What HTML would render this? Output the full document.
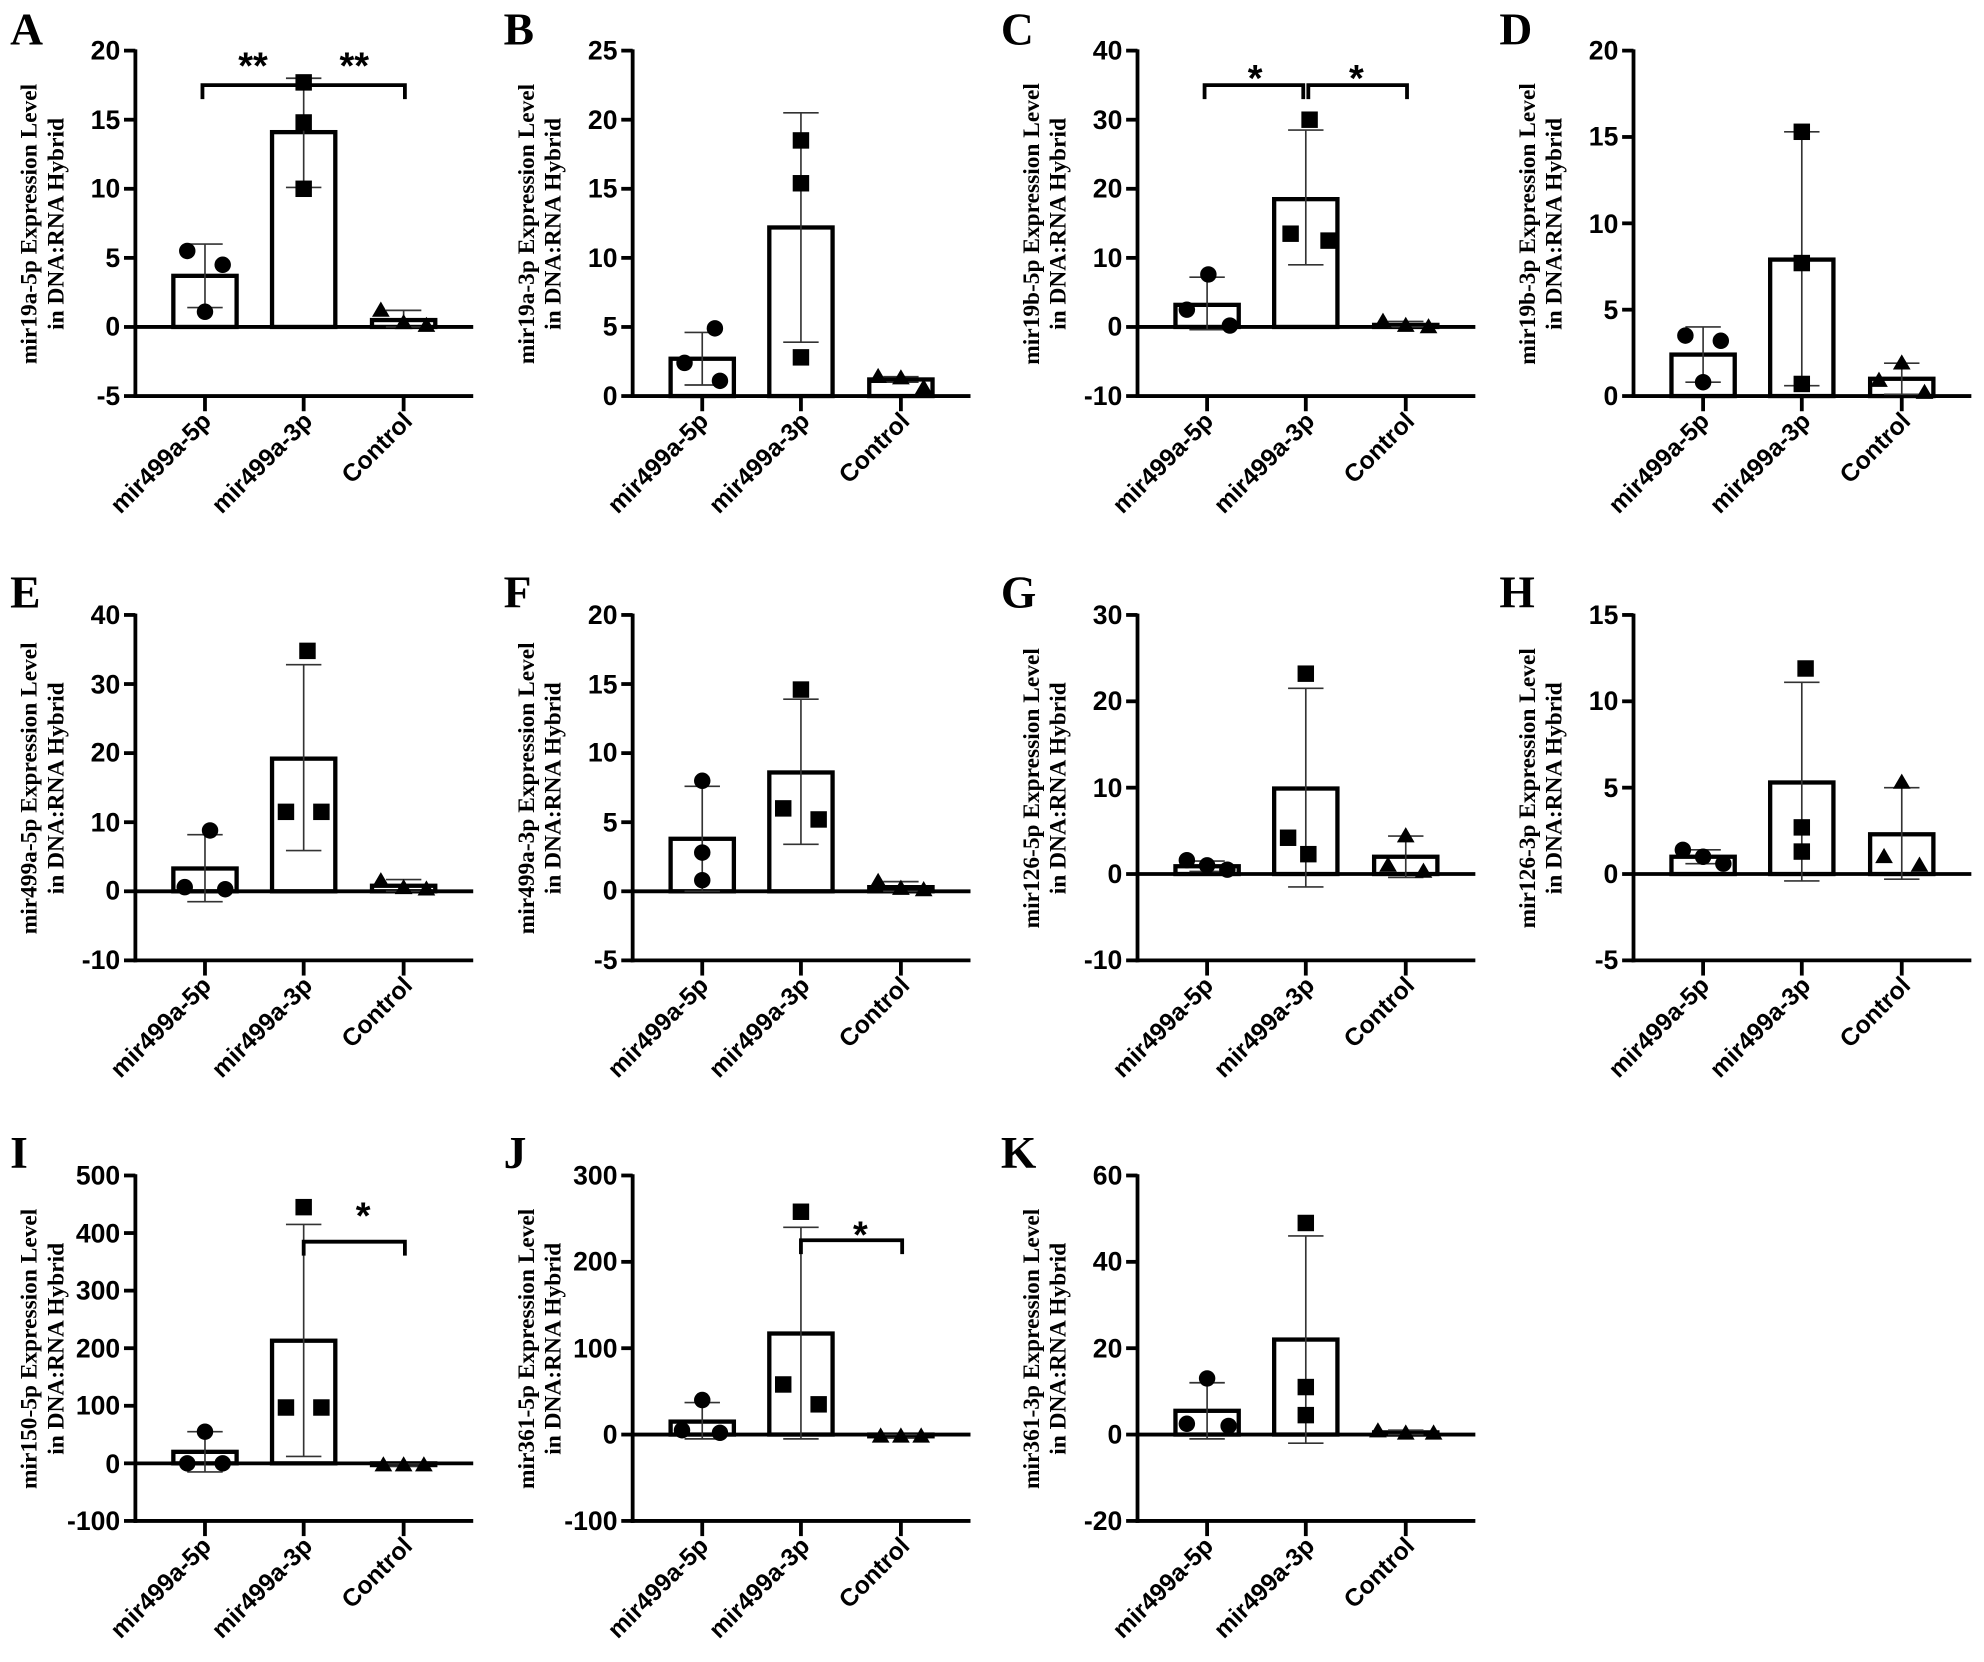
<!DOCTYPE html>
<html><head><meta charset="utf-8"><style>
html,body{margin:0;padding:0;background:#fff;}
svg{display:block;}
.tk{font-family:"Liberation Sans",sans-serif;font-weight:bold;font-size:21px;text-anchor:end;}
.xl{font-family:"Liberation Sans",sans-serif;font-weight:bold;font-size:19.5px;text-anchor:end;}
.yl{font-family:"Liberation Serif",serif;font-weight:bold;font-size:18.5px;text-anchor:middle;}
.pl{font-family:"Liberation Serif",serif;font-weight:bold;font-size:36px;}
.st{font-family:"Liberation Sans",sans-serif;font-weight:bold;font-size:30px;text-anchor:middle;}
</style></head><body>
<svg id="s" width="1984" height="1662" viewBox="0 0 1568 1313.5" preserveAspectRatio="none" xmlns="http://www.w3.org/2000/svg">
<rect width="1568" height="1313.5" fill="#fff"/>
<text class="pl" x="8" y="35">A</text>
<text class="pl" x="398" y="35">B</text>
<text class="pl" x="791" y="35">C</text>
<text class="pl" x="1185" y="35">D</text>
<text class="pl" x="8" y="480">E</text>
<text class="pl" x="398" y="480">F</text>
<text class="pl" x="791" y="480">G</text>
<text class="pl" x="1185" y="480">H</text>
<text class="pl" x="8" y="923">I</text>
<text class="pl" x="398" y="923">J</text>
<text class="pl" x="791" y="923">K</text>

<g transform="translate(107,40)">
<text class="yl" transform="translate(-78,137) rotate(-90)">mir19a-5p Expression Level</text>
<text class="yl" transform="translate(-57,137) rotate(-90)">in DNA:RNA Hybrid</text>
<text class="tk" x="-12" y="7">20</text><text class="tk" x="-12" y="62">15</text><text class="tk" x="-12" y="116">10</text><text class="tk" x="-12" y="171">5</text><text class="tk" x="-12" y="225">0</text><text class="tk" x="-12" y="280">-5</text>
<text class="st" x="93" y="22">**</text><text class="st" x="173" y="22">**</text>
</g>
<g transform="translate(500,40)">
<text class="yl" transform="translate(-78,137) rotate(-90)">mir19a-3p Expression Level</text>
<text class="yl" transform="translate(-57,137) rotate(-90)">in DNA:RNA Hybrid</text>
<text class="tk" x="-12" y="7">25</text><text class="tk" x="-12" y="62">20</text><text class="tk" x="-12" y="116">15</text><text class="tk" x="-12" y="171">10</text><text class="tk" x="-12" y="225">5</text><text class="tk" x="-12" y="280">0</text>
</g>
<g transform="translate(899,40)">
<text class="yl" transform="translate(-78,137) rotate(-90)">mir19b-5p Expression Level</text>
<text class="yl" transform="translate(-57,137) rotate(-90)">in DNA:RNA Hybrid</text>
<text class="tk" x="-12" y="7">40</text><text class="tk" x="-12" y="62">30</text><text class="tk" x="-12" y="116">20</text><text class="tk" x="-12" y="171">10</text><text class="tk" x="-12" y="225">0</text><text class="tk" x="-12" y="280">-10</text>
<text class="st" x="93" y="32">*</text><text class="st" x="173" y="32">*</text>
</g>
<g transform="translate(1291,40)">
<text class="yl" transform="translate(-78,137) rotate(-90)">mir19b-3p Expression Level</text>
<text class="yl" transform="translate(-57,137) rotate(-90)">in DNA:RNA Hybrid</text>
<text class="tk" x="-12" y="7">20</text><text class="tk" x="-12" y="75">15</text><text class="tk" x="-12" y="144">10</text><text class="tk" x="-12" y="212">5</text><text class="tk" x="-12" y="280">0</text>
</g>

<g transform="translate(107,486)">
<text class="yl" transform="translate(-78,137) rotate(-90)">mir499a-5p Expression Level</text>
<text class="yl" transform="translate(-57,137) rotate(-90)">in DNA:RNA Hybrid</text>
<text class="tk" x="-12" y="7">40</text><text class="tk" x="-12" y="62">30</text><text class="tk" x="-12" y="116">20</text><text class="tk" x="-12" y="171">10</text><text class="tk" x="-12" y="225">0</text><text class="tk" x="-12" y="280">-10</text>
</g>
<g transform="translate(500,486)">
<text class="yl" transform="translate(-78,137) rotate(-90)">mir499a-3p Expression Level</text>
<text class="yl" transform="translate(-57,137) rotate(-90)">in DNA:RNA Hybrid</text>
<text class="tk" x="-12" y="7">20</text><text class="tk" x="-12" y="62">15</text><text class="tk" x="-12" y="116">10</text><text class="tk" x="-12" y="171">5</text><text class="tk" x="-12" y="225">0</text><text class="tk" x="-12" y="280">-5</text>
</g>
<g transform="translate(899,486)">
<text class="yl" transform="translate(-78,137) rotate(-90)">mir126-5p Expression Level</text>
<text class="yl" transform="translate(-57,137) rotate(-90)">in DNA:RNA Hybrid</text>
<text class="tk" x="-12" y="7">30</text><text class="tk" x="-12" y="75">20</text><text class="tk" x="-12" y="144">10</text><text class="tk" x="-12" y="212">0</text><text class="tk" x="-12" y="280">-10</text>
</g>
<g transform="translate(1291,486)">
<text class="yl" transform="translate(-78,137) rotate(-90)">mir126-3p Expression Level</text>
<text class="yl" transform="translate(-57,137) rotate(-90)">in DNA:RNA Hybrid</text>
<text class="tk" x="-12" y="7">15</text><text class="tk" x="-12" y="75">10</text><text class="tk" x="-12" y="144">5</text><text class="tk" x="-12" y="212">0</text><text class="tk" x="-12" y="280">-5</text>
</g>

<g transform="translate(107,929)">
<text class="yl" transform="translate(-78,137) rotate(-90)">mir150-5p Expression Level</text>
<text class="yl" transform="translate(-57,137) rotate(-90)">in DNA:RNA Hybrid</text>
<text class="tk" x="-12" y="7">500</text><text class="tk" x="-12" y="53">400</text><text class="tk" x="-12" y="98">300</text><text class="tk" x="-12" y="144">200</text><text class="tk" x="-12" y="189">100</text><text class="tk" x="-12" y="235">0</text><text class="tk" x="-12" y="280">-100</text>
<text class="st" x="180" y="42">*</text>
</g>
<g transform="translate(500,929)">
<text class="yl" transform="translate(-78,137) rotate(-90)">mir361-5p Expression Level</text>
<text class="yl" transform="translate(-57,137) rotate(-90)">in DNA:RNA Hybrid</text>
<text class="tk" x="-12" y="7">300</text><text class="tk" x="-12" y="75">200</text><text class="tk" x="-12" y="144">100</text><text class="tk" x="-12" y="212">0</text><text class="tk" x="-12" y="280">-100</text>
<text class="st" x="180" y="57">*</text>
</g>
<g transform="translate(899,929)">
<text class="yl" transform="translate(-78,137) rotate(-90)">mir361-3p Expression Level</text>
<text class="yl" transform="translate(-57,137) rotate(-90)">in DNA:RNA Hybrid</text>
<text class="tk" x="-12" y="7">60</text><text class="tk" x="-12" y="75">40</text><text class="tk" x="-12" y="144">20</text><text class="tk" x="-12" y="212">0</text><text class="tk" x="-12" y="280">-20</text>
</g>

<text class="xl" transform="translate(168,334) rotate(-45)">mir499a-5p</text><text class="xl" transform="translate(248,334) rotate(-45)">mir499a-3p</text><text class="xl" transform="translate(327,334) rotate(-45)">Control</text>
<text class="xl" transform="translate(561,334) rotate(-45)">mir499a-5p</text><text class="xl" transform="translate(641,334) rotate(-45)">mir499a-3p</text><text class="xl" transform="translate(720,334) rotate(-45)">Control</text>
<text class="xl" transform="translate(960,334) rotate(-45)">mir499a-5p</text><text class="xl" transform="translate(1040,334) rotate(-45)">mir499a-3p</text><text class="xl" transform="translate(1119,334) rotate(-45)">Control</text>
<text class="xl" transform="translate(1352,334) rotate(-45)">mir499a-5p</text><text class="xl" transform="translate(1432,334) rotate(-45)">mir499a-3p</text><text class="xl" transform="translate(1511,334) rotate(-45)">Control</text>

<text class="xl" transform="translate(168,780) rotate(-45)">mir499a-5p</text><text class="xl" transform="translate(248,780) rotate(-45)">mir499a-3p</text><text class="xl" transform="translate(327,780) rotate(-45)">Control</text>
<text class="xl" transform="translate(561,780) rotate(-45)">mir499a-5p</text><text class="xl" transform="translate(641,780) rotate(-45)">mir499a-3p</text><text class="xl" transform="translate(720,780) rotate(-45)">Control</text>
<text class="xl" transform="translate(960,780) rotate(-45)">mir499a-5p</text><text class="xl" transform="translate(1040,780) rotate(-45)">mir499a-3p</text><text class="xl" transform="translate(1119,780) rotate(-45)">Control</text>
<text class="xl" transform="translate(1352,780) rotate(-45)">mir499a-5p</text><text class="xl" transform="translate(1432,780) rotate(-45)">mir499a-3p</text><text class="xl" transform="translate(1511,780) rotate(-45)">Control</text>

<text class="xl" transform="translate(168,1223) rotate(-45)">mir499a-5p</text><text class="xl" transform="translate(248,1223) rotate(-45)">mir499a-3p</text><text class="xl" transform="translate(327,1223) rotate(-45)">Control</text>
<text class="xl" transform="translate(561,1223) rotate(-45)">mir499a-5p</text><text class="xl" transform="translate(641,1223) rotate(-45)">mir499a-3p</text><text class="xl" transform="translate(720,1223) rotate(-45)">Control</text>
<text class="xl" transform="translate(960,1223) rotate(-45)">mir499a-5p</text><text class="xl" transform="translate(1040,1223) rotate(-45)">mir499a-3p</text><text class="xl" transform="translate(1119,1223) rotate(-45)">Control</text>
<g id="plots"></g>
</svg>
<script>
var P=[
{x:107,y:40,mn:-5,mx:20,b:[[3.7,1.4,6.0,[[-14,5.5],[14,4.5],[0,1.1]]],[14.1,10.1,18.0,[[0,17.7],[0,14.8],[0,10]]],[0.5,0,1.2,[[-18,1.2],[0,0.3],[18,0.1]]]],sig:[[53,213,17.5]]},
{x:500,y:40,mn:0,mx:25,b:[[2.7,0.8,4.6,[[10,4.9],[-14,2.4],[14,1.1]]],[12.2,3.9,20.5,[[0,18.5],[0,15.4],[0,2.8]]],[1.2,1.0,1.4,[[-18,1.4],[0,1.3],[18,0.6]]]]},
{x:899,y:40,mn:-10,mx:40,b:[[3.2,-0.4,7.2,[[1,7.6],[-16,2.5],[18,0.2]]],[18.5,9,28.5,[[3,30],[-12,13.5],[18,12.5]]],[0.3,0,0.8,[[-18,0.8],[0,0.2],[18,0]]]],sig:[[53,131,35],[135,213,35]]},
{x:1291,y:40,mn:0,mx:20,b:[[2.4,0.8,4.0,[[-14,3.5],[14,3.2],[0,0.8]]],[7.9,0.6,15.3,[[0,15.3],[0,7.7],[0,0.7]]],[1.0,0.1,1.9,[[0,1.9],[-18,0.9],[18,0.2]]]]},
{x:107,y:486,mn:-10,mx:40,b:[[3.3,-1.5,8.2,[[4,8.8],[-16,0.6],[16,0.3]]],[19.2,5.9,32.8,[[3,34.8],[-14,11.5],[14,11.5]]],[0.8,0,1.7,[[-18,1.5],[0,0.5],[18,0.3]]]]},
{x:500,y:486,mn:-5,mx:20,b:[[3.8,0,7.6,[[0,8],[0,2.8],[0,0.8]]],[8.6,3.4,13.9,[[0,14.6],[-14,6],[14,5.2]]],[0.3,0,0.7,[[-18,0.7],[0,0.2],[18,0.1]]]]},
{x:899,y:486,mn:-10,mx:30,b:[[0.9,0.3,1.5,[[-16,1.6],[0,1.0],[16,0.5]]],[9.9,-1.5,21.5,[[0,23.2],[-14,4.2],[2,2.3]]],[2.0,-0.4,4.4,[[0,4.4],[-14,1.0],[14,0.3]]]]},
{x:1291,y:486,mn:-5,mx:15,b:[[1.0,0.6,1.4,[[-16,1.4],[0,1.0],[16,0.6]]],[5.3,-0.4,11.1,[[3,11.9],[0,2.7],[0,1.3]]],[2.3,-0.3,5.0,[[0,5.3],[-14,1.0],[14,0.5]]]]},
{x:107,y:929,mn:-100,mx:500,b:[[20,-15,55,[[0,55],[-14,0],[14,0]]],[213,12,415,[[0,445],[-14,97],[14,97]]],[-3,-5,-1,[[-16,-3],[0,-3],[16,-3]]]],sig:[[133,213,385]]},
{x:500,y:929,mn:-100,mx:300,b:[[15,-5,37,[[0,40],[-16,5],[14,2]]],[117,-5,240,[[0,258],[-14,58],[14,35]]],[-2,-4,0,[[-16,-2],[0,-2],[16,-2]]]],sig:[[133,213,225]]},
{x:899,y:929,mn:-20,mx:60,b:[[5.5,-1,12,[[0,13],[-16,2.5],[17,2]]],[22,-2,46,[[0,49],[0,11],[0,4.5]]],[0.5,0,1,[[-22,0.8],[0,0.3],[22,0.3]]]]}
];
var H=273,W=267,cx=[55,133,212],out='',STP=[5,5,5,4,5,5,4,4,6,4,4];
P.forEach(function(p,ix){
 function Y(v){return p.y+H*(p.mx-v)/(p.mx-p.mn);}
 var x0=p.x;
 out+='<line x1="'+x0+'" y1="'+(p.y-1)+'" x2="'+x0+'" y2="'+(p.y+H+1.5)+'" stroke="#000" stroke-width="3"/>';
 out+='<line x1="'+(x0-1.5)+'" y1="'+(p.y+H)+'" x2="'+(x0+W)+'" y2="'+(p.y+H)+'" stroke="#000" stroke-width="3"/>';
 var st=STP[ix];
 for(var i=0;i<=st;i++){var ty=p.y+H*i/st;out+='<line x1="'+(x0-9)+'" y1="'+ty+'" x2="'+x0+'" y2="'+ty+'" stroke="#000" stroke-width="3"/>';}
 cx.forEach(function(c){out+='<line x1="'+(x0+c)+'" y1="'+(p.y+H)+'" x2="'+(x0+c)+'" y2="'+(p.y+H+12)+'" stroke="#000" stroke-width="3"/>';});
 var z=Y(0);
 p.b.forEach(function(b,k){
  var c=x0+cx[k],top=Y(b[0]);
  out+='<rect x="'+(c-25)+'" y="'+Math.min(top,z)+'" width="50" height="'+Math.abs(z-top)+'" fill="#fff" stroke="#000" stroke-width="3.4"/>';
 });
 if(p.mn<0) out+='<line x1="'+x0+'" y1="'+z+'" x2="'+(x0+W)+'" y2="'+z+'" stroke="#000" stroke-width="3"/>';
 p.b.forEach(function(b,k){
  var c=x0+cx[k];
  out+='<line x1="'+c+'" y1="'+Y(b[1])+'" x2="'+c+'" y2="'+Y(b[2])+'" stroke="#333" stroke-width="1.3"/>';
  [b[1],b[2]].forEach(function(v){out+='<line x1="'+(c-14)+'" y1="'+Y(v)+'" x2="'+(c+14)+'" y2="'+Y(v)+'" stroke="#333" stroke-width="1.3"/>';});
  b[3].forEach(function(pt){
   var px=c+pt[0],py=Y(pt[1]);
   if(k==0) out+='<circle cx="'+px+'" cy="'+py+'" r="6.5" fill="#000"/>';
   else if(k==1) out+='<rect x="'+(px-6.5)+'" y="'+(py-6.5)+'" width="13" height="13" fill="#000"/>';
   else out+='<polygon points="'+px+','+(py-7)+' '+(px-7)+','+(py+5)+' '+(px+7)+','+(py+5)+'" fill="#000"/>';
  });
 });
 (p.sig||[]).forEach(function(s){
  var a=x0+s[0],e=x0+s[1],yy=Y(s[2]);
  out+='<polyline points="'+a+','+(yy+11)+' '+a+','+yy+' '+e+','+yy+' '+e+','+(yy+11)+'" fill="none" stroke="#000" stroke-width="3"/>';
 });
});
document.getElementById('plots').innerHTML=out;
</script>
</body></html>
